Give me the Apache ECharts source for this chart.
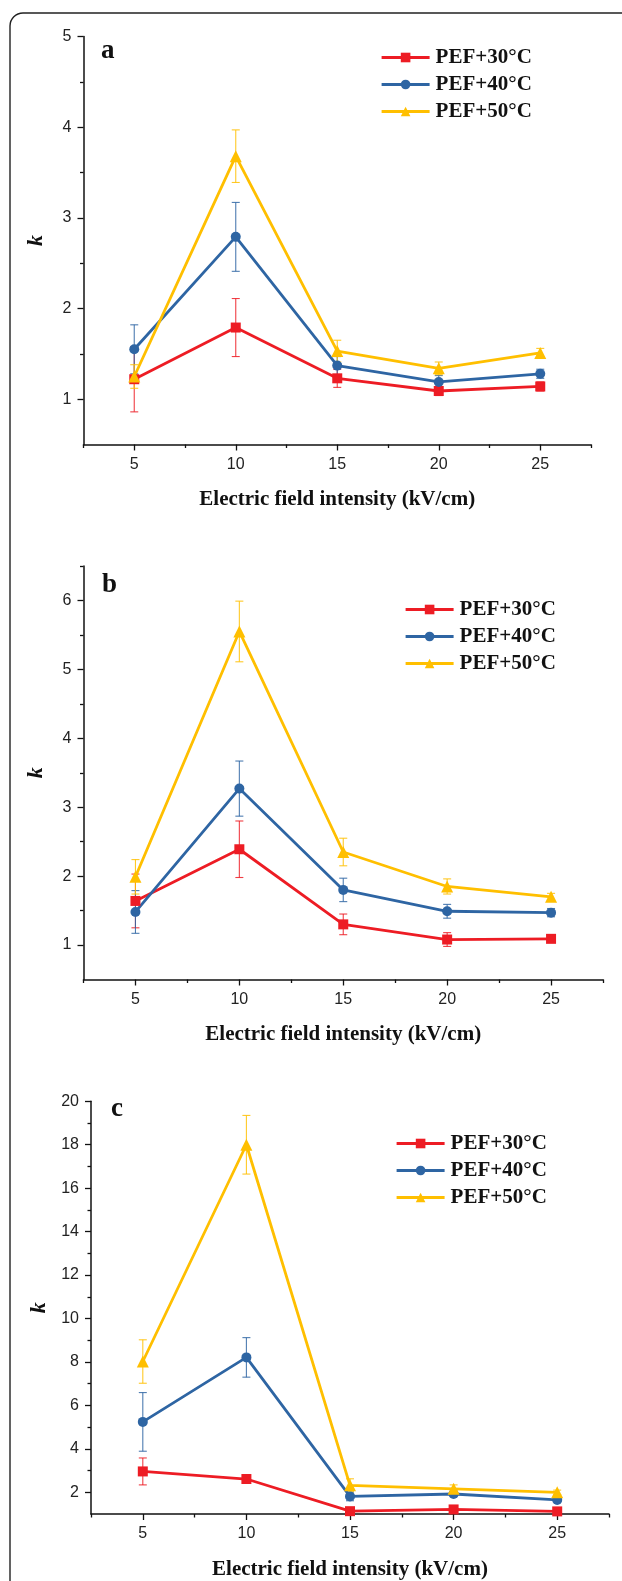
<!DOCTYPE html>
<html>
<head>
<meta charset="utf-8">
<script src="https://cdn.jsdelivr.net/npm/echarts@6/dist/echarts.min.js"></script>
<style>
  html, body { margin: 0; padding: 0; background: #fff; }
  #main { width: 622px; height: 1581px; }
</style>
</head>
<body>
<div id="main"></div>
<script>
// x values (kV/cm) shared by all three panels
const fieldKV = [5, 10, 15, 20, 25]
const seriesNames = ['PEF+30°C', 'PEF+40°C', 'PEF+50°C']

// panel a
const kA30 = [1.22, 1.79, 1.23, 1.09, 1.14]
const errA30 = [0.36, 0.32, 0.10, 0.05, 0.05]
const kA40 = [1.55, 2.79, 1.37, 1.19, 1.28]
const errA40 = [0.27, 0.38, 0.10, 0.07, 0.05]
const kA50 = [1.25, 3.68, 1.53, 1.34, 1.51]
const errA50 = [0.13, 0.29, 0.12, 0.07, 0.05]

// panel b
const kB30 = [1.64, 2.39, 1.30, 1.08, 1.09]
const errB30 = [0.39, 0.41, 0.15, 0.10, 0.05]
const kB40 = [1.48, 3.27, 1.80, 1.49, 1.47]
const errB40 = [0.31, 0.40, 0.17, 0.10, 0.06]
const kB50 = [1.99, 5.55, 2.35, 1.85, 1.70]
const errB50 = [0.25, 0.44, 0.20, 0.11, 0.05]

// panel c
const kC30 = [2.96, 2.61, 1.13, 1.21, 1.12]
const errC30 = [0.62, 0.20, 0.08, 0.08, 0.05]
const kC40 = [5.24, 8.21, 1.81, 1.92, 1.65]
const errC40 = [1.35, 0.91, 0.20, 0.12, 0.08]
const kC50 = [8.02, 18.0, 2.32, 2.16, 2.00]
const errC50 = [1.0, 1.35, 0.30, 0.18, 0.10]

// ticks
const xTicks = [5, 10, 15, 20, 25]
const xMinorTicks = [2.5, 7.5, 12.5, 17.5, 22.5, 27.5]
const yTicksA = [1, 2, 3, 4, 5]
const yMinorA = [1.5, 2.5, 3.5, 4.5]
const yTicksB = [1, 2, 3, 4, 5, 6]
const yMinorB = [1.5, 2.5, 3.5, 4.5, 5.5, 6.5]
const yTicksC = [2, 4, 6, 8, 10, 12, 14, 16, 18, 20]
const yMinorC = [3, 5, 7, 9, 11, 13, 15, 17, 19]

const colors = ['#ED1C24', '#2E65A3', '#FFBF00']
const symbols = ['rect', 'circle', 'triangle']
const symbolSizes = [10, 10, 12]
const serif = 'Liberation Serif'
const sans = 'Liberation Sans'

const panels = [
  {
    letter: 'a', vals: [kA30, kA40, kA50], errs: [errA30, errA40, errA50],
    yMin: 0.5, yMax: 5, yTicks: yTicksA, yMinor: yMinorA,
    grid: { left: 83.5, top: 36.5, width: 507.5, height: 408 },
    legend: { left: 375, top: 42 }, letterPos: [101, 38]
  },
  {
    letter: 'b', vals: [kB30, kB40, kB50], errs: [errB30, errB40, errB50],
    yMin: 0.5, yMax: 6.5, yTicks: yTicksB, yMinor: yMinorB,
    grid: { left: 83.5, top: 566, width: 519.5, height: 413.5 },
    legend: { left: 399, top: 594 }, letterPos: [102, 572]
  },
  {
    letter: 'c', vals: [kC30, kC40, kC50], errs: [errC30, errC40, errC50],
    yMin: 1, yMax: 20, yTicks: yTicksC, yMinor: yMinorC,
    grid: { left: 91, top: 1101.3, width: 518, height: 415.3 },
    legend: { left: 390, top: 1128 }, letterPos: [111, 1096]
  }
]

const axisLine = { show: true, lineStyle: { color: '#111', width: 1.5 } }

const grids = [], xAxes = [], yAxes = [], series = [], legends = [], titles = []

panels.forEach((p, gi) => {
  grids.push(p.grid)

  // major x axis
  xAxes.push({
    type: 'value', gridIndex: gi, min: 2.5, max: 27.5, position: 'bottom',
    axisLine, splitLine: { show: false },
    axisTick: { show: true, customValues: xTicks, length: 6, lineStyle: { color: '#111', width: 1.3 } },
    axisLabel: { customValues: xTicks, margin: 12, fontFamily: sans, fontSize: 16, color: '#222' },
    name: 'Electric field intensity (kV/cm)', nameLocation: 'middle', nameGap: 45,
    nameTextStyle: { fontFamily: serif, fontWeight: 'bold', fontSize: 21, color: '#111' }
  })
  // minor x ticks
  xAxes.push({
    type: 'value', gridIndex: gi, min: 2.5, max: 27.5, position: 'bottom',
    axisLine: { show: false }, splitLine: { show: false }, axisLabel: { show: false },
    axisTick: { show: true, customValues: xMinorTicks, length: 3.5, lineStyle: { color: '#111', width: 1.3 } }
  })

  yAxes.push({
    type: 'value', gridIndex: gi, min: p.yMin, max: p.yMax, position: 'left',
    axisLine, splitLine: { show: false },
    axisTick: { show: true, customValues: p.yTicks, length: 6, lineStyle: { color: '#111', width: 1.3 } },
    axisLabel: { customValues: p.yTicks, margin: 12, fontFamily: sans, fontSize: 16, color: '#222' },
    name: 'k', nameLocation: 'middle', nameGap: 36, nameRotate: 90,
    nameTextStyle: { fontFamily: serif, fontWeight: 'bold', fontStyle: 'italic', fontSize: 22, color: '#111' }
  })
  yAxes.push({
    type: 'value', gridIndex: gi, min: p.yMin, max: p.yMax, position: 'left',
    axisLine: { show: false }, splitLine: { show: false }, axisLabel: { show: false },
    axisTick: { show: true, customValues: p.yMinor, length: 3.5, lineStyle: { color: '#111', width: 1.3 } }
  })

  seriesNames.forEach((name, si) => {
    const vals = p.vals[si], errs = p.errs[si], color = colors[si]
    series.push({
      type: 'custom', name: 'err' + gi + si, xAxisIndex: 2 * gi, yAxisIndex: 2 * gi, z: 1,
      silent: true,
      data: fieldKV.map((x, i) => [x, vals[i] - errs[i], vals[i] + errs[i]]),
      renderItem: (params, api) => {
        const hi = api.coord([api.value(0), api.value(2)])
        const lo = api.coord([api.value(0), api.value(1)])
        const w = 4
        const style = { stroke: color, lineWidth: 1.1, opacity: 0.85 }
        return {
          type: 'group', children: [
            { type: 'line', shape: { x1: hi[0], y1: hi[1], x2: lo[0], y2: lo[1] }, style },
            { type: 'line', shape: { x1: hi[0] - w, y1: hi[1], x2: hi[0] + w, y2: hi[1] }, style },
            { type: 'line', shape: { x1: lo[0] - w, y1: lo[1], x2: lo[0] + w, y2: lo[1] }, style }
          ]
        }
      }
    })
    series.push({
      type: 'line', name, xAxisIndex: 2 * gi, yAxisIndex: 2 * gi, z: 2,
      data: fieldKV.map((x, i) => [x, vals[i]]),
      symbol: symbols[si], symbolSize: symbolSizes[si],
      itemStyle: { color }, lineStyle: { color, width: 2.8 }
    })
  })

  legends.push({
    orient: 'vertical', left: p.legend.left, top: p.legend.top,
    data: seriesNames, itemWidth: 48, itemHeight: 12, itemGap: 6,
    lineStyle: { width: 3.2 },
    textStyle: { fontFamily: serif, fontWeight: 'bold', fontSize: 21, color: '#111', padding: [0, 0, 0, 1] },
    selectedMode: false
  })

  titles.push({
    text: p.letter, left: p.letterPos[0], top: p.letterPos[1], padding: 0,
    textStyle: { fontFamily: serif, fontWeight: 'bold', fontSize: 27, color: '#111' }
  })
})

const chart = echarts.init(document.getElementById('main'), null, { renderer: 'canvas' })
chart.setOption({
  animation: false,
  backgroundColor: '#fff',
  color: colors,
  title: titles,
  legend: legends,
  grid: grids,
  xAxis: xAxes,
  yAxis: yAxes,
  series,
  graphic: [{
    type: 'rect', z: -1, silent: true,
    shape: { x: 10, y: 13, width: 700, height: 1700, r: 13 },
    style: { fill: 'none', stroke: '#222', lineWidth: 1.4 }
  }]
})
</script>
</body>
</html>
